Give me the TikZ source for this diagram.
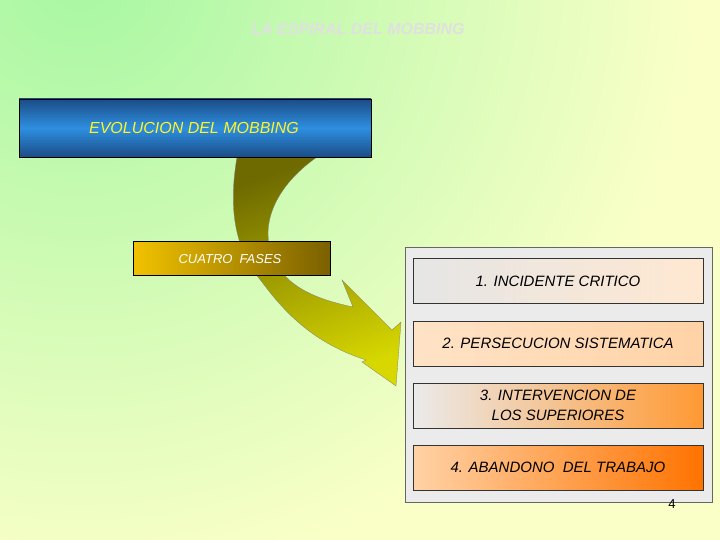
\documentclass[tikz,border=0pt]{standalone}
\usepackage{fontspec}
\setmainfont{Liberation Sans}
\begin{document}
\begin{tikzpicture}[x=1pt,y=-1pt,
  tbox/.style={draw=black!80,line width=0.6pt,minimum width=290pt,minimum height=45pt,font=\itshape\fontsize{15}{20}\selectfont,align=center,inner sep=0pt}]
\useasboundingbox (0,0) rectangle (720,540);
\definecolor{bgG}{HTML}{A6F7A2}
\definecolor{bgY}{HTML}{FAFFC8}
\fill[bgY] (0,0) rectangle (720,540);
\begin{scope}
\clip (0,0) rectangle (720,540);
\shade[inner color=bgG,outer color=bgY] (80,-30) circle (620);
\end{scope}
\node[text=black!12!white,font=\bfseries\itshape\fontsize{16}{19}\selectfont] (title) at (358,29) {LA ESPIRAL DEL MOBBING};
% arrow
\definecolor{arD}{HTML}{6E6A00}
\definecolor{arL}{HTML}{D8D800}
\shade[left color=arD,right color=arL,shading angle=20,draw=black!50,line width=0.3pt]
 (237,157) .. controls (228,210) and (235,250) .. (262,282)
 .. controls (290,320) and (320,345) .. (366,360)
 -- (362,362) -- (396,386) -- (401,322) -- (392,330)
 -- (342,280) -- (353,307)
 .. controls (320,300) and (295,290) .. (280,270)
 .. controls (255,235) and (270,190) .. (317,157) -- cycle;
% blue box
\definecolor{bluD}{HTML}{1B4C86}
\definecolor{bluL}{HTML}{2E8FE0}
\shade[top color=bluD,bottom color=bluD,middle color=bluL,draw=black] (19,99) rectangle (371,157);
\node[text=yellow!85!white,font=\itshape\fontsize{16}{19}\selectfont] (evo) at (194,128) {EVOLUCION DEL MOBBING};
% cuatro fases
\definecolor{gA}{HTML}{F2C200}
\definecolor{gB}{HTML}{7A6000}
\shade[left color=gA,right color=gB,draw=black] (133,241) rectangle (330,275);
\node[text=white,font=\itshape\fontsize{13}{15}\selectfont] (cf) at (230,259) {CUATRO\ \ FASES};
% panel
\draw[black!60,fill=black!8] (405,247) rectangle (712,502);
\node[tbox,left color=black!10,right color=orange!18] (f1) at (558,281) {1. INCIDENTE CRITICO};
\node[tbox,left color=orange!22,right color=orange!35] (f2) at (558,343.5) {2. PERSECUCION SISTEMATICA};
\node[tbox,left color=black!8,right color=orange!80] (f3) at (558,405.5) {3. INTERVENCION DE\\LOS SUPERIORES};
\node[tbox,left color=orange!35,right color=orange!90!red] (f4) at (558,467.5) {4. ABANDONO\ \ DEL TRABAJO};
\node[font=\fontsize{13}{15}\selectfont] (pg) at (672,504) {4};
\end{tikzpicture}
\end{document}
